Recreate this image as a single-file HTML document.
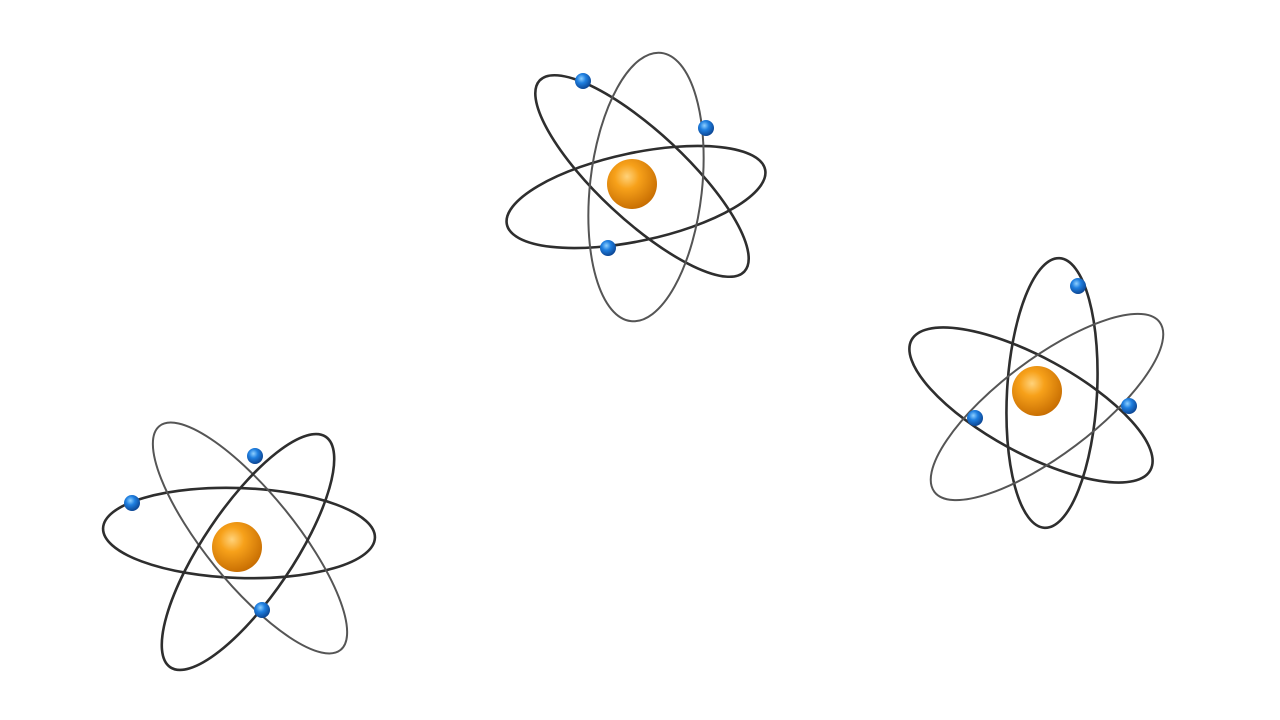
<!DOCTYPE html>
<html>
<head>
<meta charset="utf-8">
<style>
html,body{margin:0;padding:0;background:#fff;width:1280px;height:720px;overflow:hidden;}
svg{display:block;}
</style>
</head>
<body>
<svg width="1280" height="720" viewBox="0 0 1280 720">
<defs>
<radialGradient id="nuc" cx="0.4" cy="0.35" r="0.7">
<stop offset="0" stop-color="#ffd27a"/>
<stop offset="0.35" stop-color="#f7a11a"/>
<stop offset="1" stop-color="#c46a00"/>
</radialGradient>
<radialGradient id="ele" cx="0.4" cy="0.35" r="0.7">
<stop offset="0" stop-color="#8fd0ff"/>
<stop offset="0.4" stop-color="#1f7fe0"/>
<stop offset="1" stop-color="#0a3f8a"/>
</radialGradient>
</defs>
<g fill="none" stroke="#2e2e2e" stroke-width="2.6">
<g>
<ellipse cx="636" cy="197" rx="132" ry="44" transform="rotate(-12 636 197)"/>
<ellipse cx="642" cy="176" rx="140" ry="44" transform="rotate(43 642 176)"/>
<ellipse cx="646" cy="187" rx="135" ry="56" transform="rotate(-83.6 646 187)" stroke="#555" stroke-width="2"/>
</g>
<g>
<ellipse cx="1052" cy="393" rx="135" ry="45" transform="rotate(-86.8 1052 393)"/>
<ellipse cx="1031" cy="405" rx="136" ry="48" transform="rotate(28.6 1031 405)"/>
<ellipse cx="1047" cy="407" rx="141" ry="48" transform="rotate(-37 1047 407)" stroke="#555" stroke-width="2"/>
</g>
<g>
<ellipse cx="239" cy="533" rx="136" ry="45" transform="rotate(2 239 533)"/>
<ellipse cx="250" cy="538" rx="144" ry="45" transform="rotate(51 250 538)" stroke="#555" stroke-width="2"/>
<ellipse cx="248" cy="552" rx="139" ry="45" transform="rotate(-56 248 552)"/>
</g>
</g>
<g>
<circle cx="632" cy="184" r="25" fill="url(#nuc)"/>
<circle cx="1037" cy="391" r="25" fill="url(#nuc)"/>
<circle cx="237" cy="547" r="25" fill="url(#nuc)"/>
</g>
<g>
<circle cx="583" cy="81" r="8" fill="url(#ele)"/>
<circle cx="706" cy="128" r="8" fill="url(#ele)"/>
<circle cx="608" cy="248" r="8" fill="url(#ele)"/>
<circle cx="1078" cy="286" r="8" fill="url(#ele)"/>
<circle cx="975" cy="418" r="8" fill="url(#ele)"/>
<circle cx="1129" cy="406" r="8" fill="url(#ele)"/>
<circle cx="132" cy="503" r="8" fill="url(#ele)"/>
<circle cx="255" cy="456" r="8" fill="url(#ele)"/>
<circle cx="262" cy="610" r="8" fill="url(#ele)"/>
</g>
</svg>
</body>
</html>
